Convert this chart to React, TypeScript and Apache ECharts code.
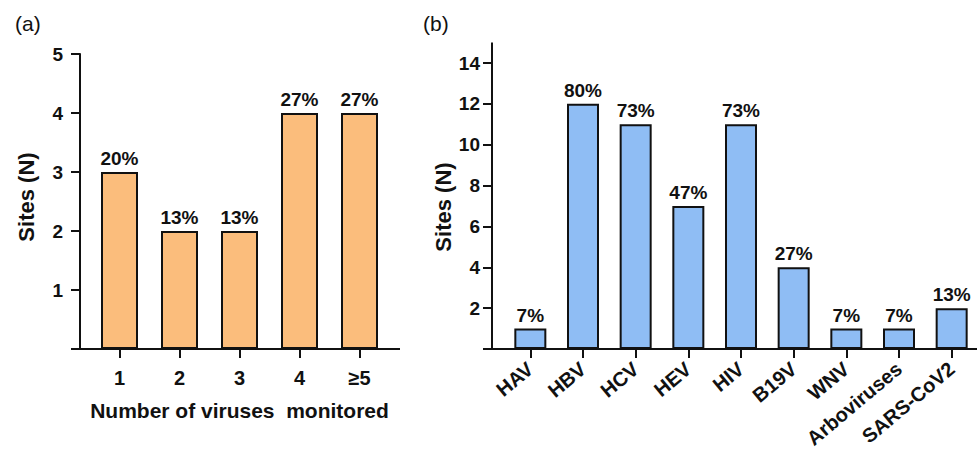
import React, { useEffect, useRef } from "react";
import * as echarts from "echarts";

// Panel (a): number of viruses monitored per site
const aCategories = ["1", "2", "3", "4", "≥5"];
const aSites = [3, 2, 2, 4, 4];
const aShares = ["20%", "13%", "13%", "27%", "27%"];

// Panel (b): sites monitoring each virus
const bCategories = ["HAV", "HBV", "HCV", "HEV", "HIV", "B19V", "WNV", "Arboviruses", "SARS-CoV2"];
const bSites = [1, 12, 11, 7, 11, 4, 1, 1, 2];
const bShares = ["7%", "80%", "73%", "47%", "73%", "27%", "7%", "7%", "13%"];

const aMax = 5;
const aInterval = 1;
const bMax = 14;
const bAxisTop = 15;
const bInterval = 2;

const FONT = "Arial, 'Liberation Sans', Helvetica, sans-serif";
const INK = "#111111";

// layout of the two plot areas
const GA = { left: 89.5, top: 54, width: 300, height: 295 };
const GB = { left: 504, top: 63, width: 474, height: 286 };
const A_AXIS_X = 80;
const B_AXIS_X = 492;

export default function App() {
  const ref = useRef<HTMLDivElement>(null);

  useEffect(() => {
    if (!ref.current) return;
    const chart = echarts.init(ref.current, undefined, { renderer: "svg" });

    const baseY = GA.top + GA.height;
    const bTopY = GB.top - (GB.height / bMax) * (bAxisTop - bMax);

    const valueAxis = (max: number, interval: number, offset: number, margin: number, grid: number) => ({
      type: "value",
      gridIndex: grid,
      min: 0,
      max,
      interval,
      offset,
      splitLine: { show: false },
      axisLine: { show: true, lineStyle: { color: INK, width: 2 } },
      axisTick: { show: true, length: 9, lineStyle: { color: INK, width: 2 } },
      axisLabel: {
        margin,
        color: INK,
        fontFamily: FONT,
        fontWeight: "bold",
        fontSize: 19,
        formatter: (v: number) => (v === 0 ? "" : String(v)),
      },
    });

    const barLabel = (shares: string[]) => ({
      show: true,
      position: "top",
      distance: 4,
      color: INK,
      fontFamily: FONT,
      fontWeight: "bold",
      fontSize: 19,
      formatter: (p: any) => shares[p.dataIndex],
    });

    chart.setOption({
      animation: false,
      backgroundColor: "#ffffff",
      grid: [
        { ...GA, containLabel: false, outerBoundsMode: "none" },
        { ...GB, containLabel: false, outerBoundsMode: "none" },
      ],
      xAxis: [
        {
          type: "category",
          gridIndex: 0,
          data: aCategories,
          axisLine: { show: true, lineStyle: { color: INK, width: 2 } },
          axisTick: { show: true, alignWithLabel: true, length: 9, lineStyle: { color: INK, width: 2 } },
          axisLabel: { margin: 19, color: INK, fontFamily: FONT, fontWeight: "bold", fontSize: 20 },
          name: "Number of viruses  monitored",
          nameLocation: "middle",
          nameGap: 51,
          nameTextStyle: { color: INK, fontFamily: FONT, fontWeight: "bold", fontSize: 21 },
        },
        {
          type: "category",
          gridIndex: 1,
          data: bCategories,
          axisLine: { show: true, lineStyle: { color: INK, width: 2 } },
          axisTick: { show: true, alignWithLabel: true, length: 9, lineStyle: { color: INK, width: 2 } },
          axisLabel: {
            rotate: 40,
            interval: 0,
            margin: 17,
            color: INK,
            fontFamily: FONT,
            fontWeight: "bold",
            fontSize: 20,
          },
        },
      ],
      yAxis: [
        valueAxis(aMax, aInterval, GA.left - A_AXIS_X, 17, 0),
        valueAxis(bMax, bInterval, GB.left - B_AXIS_X, 12, 1),
      ],
      series: [
        {
          type: "bar",
          xAxisIndex: 0,
          yAxisIndex: 0,
          data: aSites,
          barWidth: 37,
          itemStyle: { color: "#FBBD7C", borderColor: INK, borderWidth: 2 },
          label: barLabel(aShares),
        },
        {
          type: "bar",
          xAxisIndex: 1,
          yAxisIndex: 1,
          data: bSites,
          barWidth: 32,
          itemStyle: { color: "#8FBDF4", borderColor: INK, borderWidth: 2 },
          label: barLabel(bShares),
        },
      ],
      graphic: [
        {
          type: "text",
          x: 15,
          y: 13,
          style: { text: "(a)", fontFamily: FONT, fontSize: 21, fill: INK },
        },
        {
          type: "text",
          x: 423,
          y: 13,
          style: { text: "(b)", fontFamily: FONT, fontSize: 21, fill: INK },
        },
        {
          type: "text",
          x: 26,
          y: 197,
          rotation: Math.PI / 2,
          style: {
            text: "Sites (N)",
            fontFamily: FONT,
            fontWeight: "bold",
            fontSize: 22,
            fill: INK,
            align: "center",
            verticalAlign: "middle",
          },
        },
        {
          type: "text",
          x: 443,
          y: 207,
          rotation: Math.PI / 2,
          style: {
            text: "Sites (N)",
            fontFamily: FONT,
            fontWeight: "bold",
            fontSize: 22,
            fill: INK,
            align: "center",
            verticalAlign: "middle",
          },
        },
        // baselines that run out past the plot areas, as in Prism-style axes
        {
          type: "line",
          shape: { x1: A_AXIS_X - 9, y1: baseY, x2: 400, y2: baseY },
          style: { stroke: INK, lineWidth: 2 },
          z: 10,
        },
        {
          type: "line",
          shape: { x1: B_AXIS_X - 7, y1: baseY, x2: 977, y2: baseY },
          style: { stroke: INK, lineWidth: 2 },
          z: 10,
        },
        // y axis of (b) continues above its last tick
        {
          type: "line",
          shape: { x1: B_AXIS_X, y1: bTopY, x2: B_AXIS_X, y2: GB.top },
          style: { stroke: INK, lineWidth: 2 },
          z: 10,
        },
      ],
    });

    return () => chart.dispose();
  }, []);

  return (
    <div
      ref={ref}
      style={{ position: "fixed", left: 0, top: 0, width: 977, height: 454, background: "#fff" }}
    />
  );
}
